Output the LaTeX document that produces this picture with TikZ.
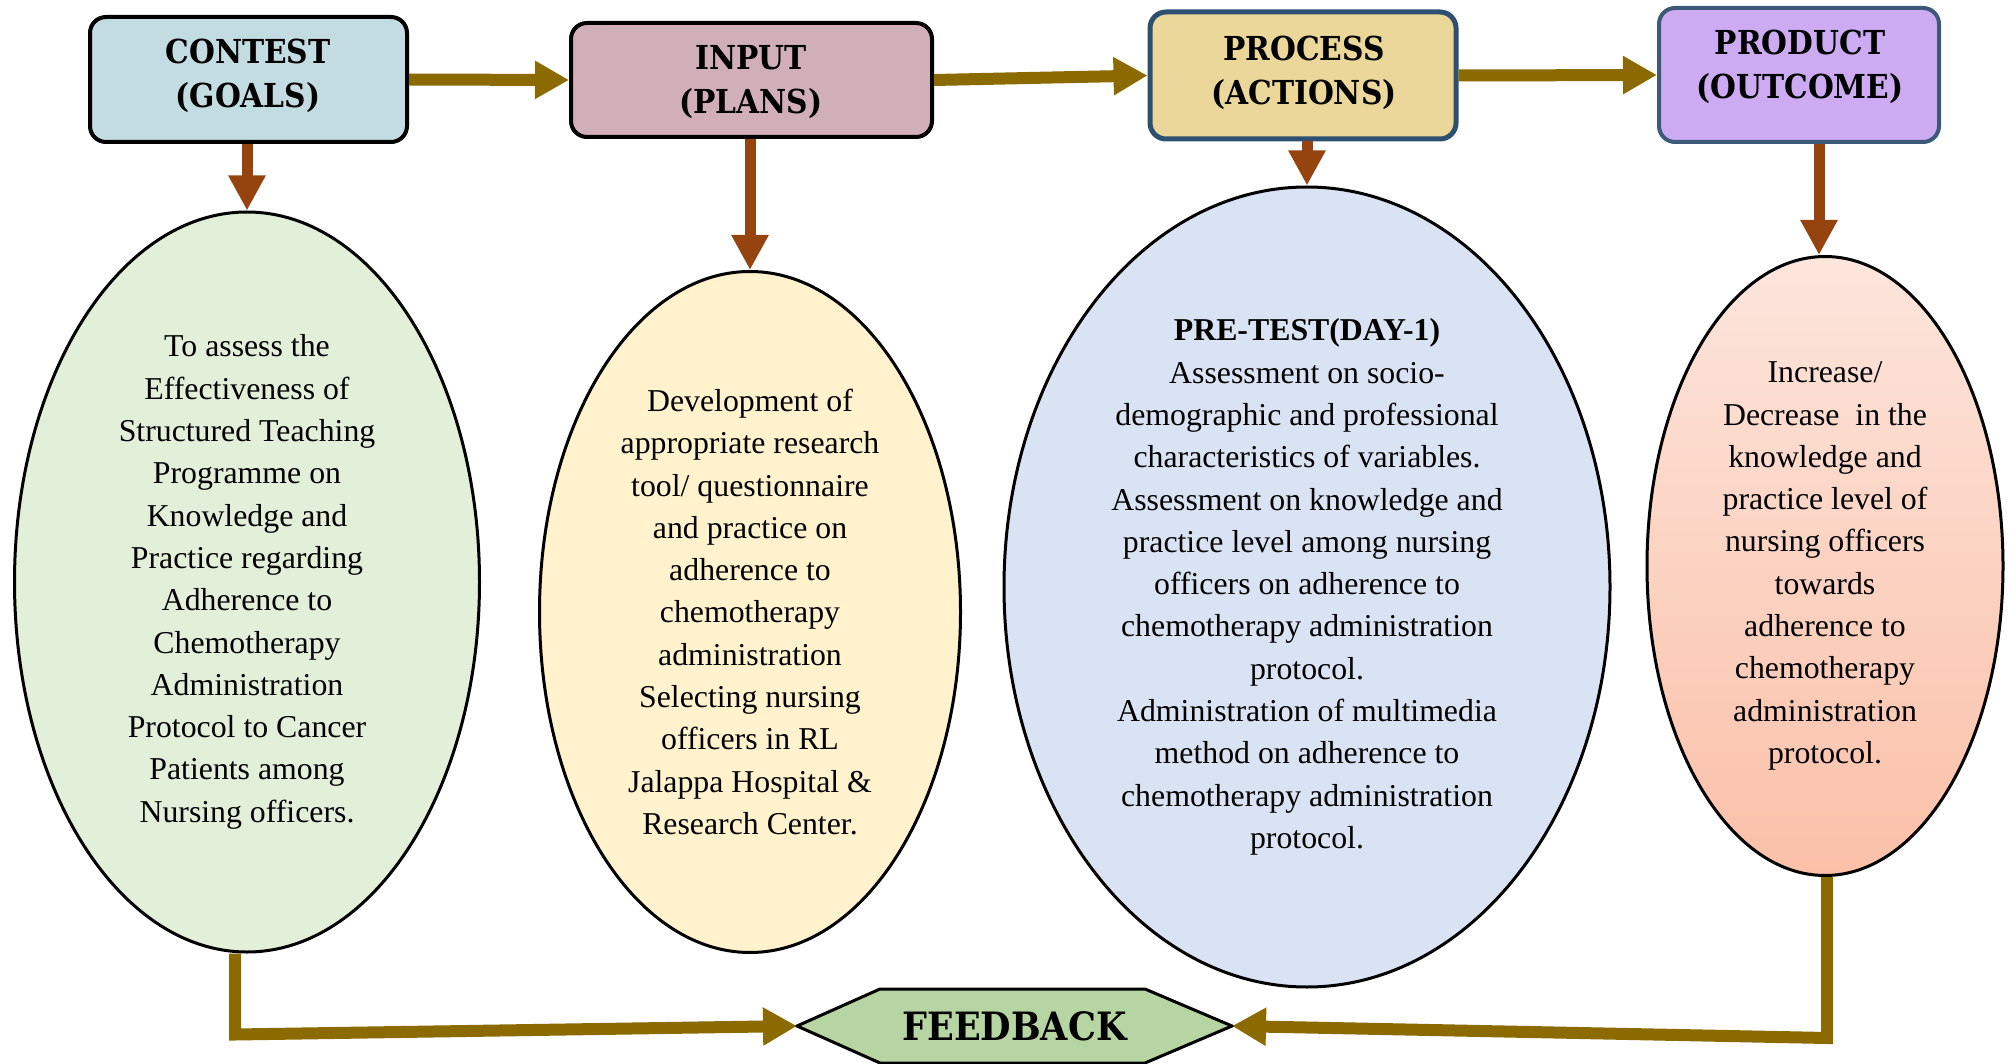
\documentclass[tikz,border=0pt]{standalone}
\usepackage{fontspec}
\setmainfont{Liberation Serif}
\newfontfamily\headfont{DejaVu Serif Condensed}
\usetikzlibrary{arrows.meta,shapes.geometric}

\definecolor{gold}{HTML}{8B6A00}
\definecolor{rust}{HTML}{95440F}
\definecolor{contestc}{HTML}{C3DCE2}
\definecolor{inputc}{HTML}{D1AFB9}
\definecolor{processc}{HTML}{EAD799}
\definecolor{productc}{HTML}{CDABF2}
\definecolor{navyedge}{HTML}{2E5070}
\definecolor{slateedge}{HTML}{3C5A78}
\definecolor{goalc}{HTML}{E2EFD9}
\definecolor{planc}{HTML}{FFF2CC}
\definecolor{actionc}{HTML}{DAE3F3}
\definecolor{outtop}{HTML}{FCE5DC}
\definecolor{outbot}{HTML}{FBC0A8}
\definecolor{hexc}{HTML}{B7D5A3}

\begin{document}
\begin{tikzpicture}[x=1pt,y=-1pt,
  hbox/.style={draw, rounded corners=16pt, line width=4pt, inner sep=0pt},
  headtext/.style={font=\headfont\bfseries\fontsize{33}{44}\selectfont, align=center, inner sep=0pt},
  oval/.style={ellipse, draw, line width=3pt, inner sep=0pt, align=center,
               font=\fontsize{31.8}{42.3}\selectfont},
  goarrow/.style={draw=gold, line width=12pt, line join=miter,
                  -{Triangle[length=34pt,width=36pt,fill=gold]}},
  downarrow/.style={draw=rust, line width=11pt,
                    -{Triangle[length=35pt,width=35pt,fill=rust]}},
]
\useasboundingbox (0,0) rectangle (2011,1064);

% stage boxes
\node[hbox, fill=contestc, minimum width=317pt, minimum height=125pt] (contest) at (248.5,79.5) {};
\node[hbox, fill=inputc, minimum width=361pt, minimum height=114pt] (input) at (751.5,80) {};
\node[hbox, fill=processc, draw=navyedge, line width=5pt, minimum width=306pt, minimum height=127pt] (process) at (1303,75.5) {};
\node[hbox, fill=productc, draw=slateedge, line width=4pt, minimum width=280pt, minimum height=134pt] (product) at (1799,75) {};

\node[headtext] (contestlbl) at (248,76) {CONTEST\\(GOALS)};
\node[headtext] (inputlbl) at (751,82) {INPUT\\(PLANS)};
\node[headtext] (processlbl) at (1304,73) {PROCESS\\(ACTIONS)};
\node[headtext] (productlbl) at (1800,67) {PRODUCT\\(OUTCOME)};

% detail ovals
\node[oval, fill=goalc, minimum width=465pt, minimum height=740pt] (e1) at (247,582)
  {To assess the\\Effectiveness of\\Structured Teaching\\Programme on\\Knowledge and\\Practice regarding\\Adherence to\\Chemotherapy\\Administration\\Protocol to Cancer\\Patients among\\Nursing officers.};
\node[oval, fill=planc, minimum width=421pt, minimum height=681pt] (e2) at (750,612)
  {Development of\\appropriate research\\tool/ questionnaire\\and practice on\\adherence to\\chemotherapy\\administration\\Selecting nursing\\officers in RL\\Jalappa Hospital \&\\Research Center.};
\node[oval, fill=actionc, minimum width=606pt, minimum height=800pt] (e3) at (1307,587)
  {\textbf{PRE-TEST(DAY-1)}\\Assessment on socio-\\demographic and professional\\characteristics of variables.\\Assessment on knowledge and\\practice level among nursing\\officers on adherence to\\chemotherapy administration\\protocol.\\Administration of multimedia\\method on adherence to\\chemotherapy administration\\protocol.};
\node[oval, top color=outtop, bottom color=outbot, minimum width=356pt, minimum height=619pt] (e4) at (1825,566)
  {Increase/\\Decrease\ \ in the\\knowledge and\\practice level of\\nursing officers\\towards\\adherence to\\chemotherapy\\administration\\protocol.};

% flow between stages
\draw[goarrow] (contest.east) -- (input.west);
\draw[goarrow] (input.east) -- (process.west);
\draw[goarrow] (process.east) -- (product.west);

% from each stage down to its oval
\draw[downarrow] (e1.north |- contest.south) -- (e1.north);
\draw[downarrow] (e2.north |- input.south) -- (e2.north);
\draw[downarrow] (e3.north |- process.south) -- (e3.north);
\draw[downarrow] ([xshift=-6pt]e4.north |- product.south) -- ([xshift=-6pt]e4.north);

% feedback hexagon
\node[minimum width=435pt, minimum height=74pt, inner sep=0pt, outer sep=0pt] (fbshape) at (1014.5,1026) {};
\draw[line width=3pt, fill=hexc, line join=miter]
  (fbshape.west) -- ([xshift=83pt]fbshape.north west) -- ([xshift=-87pt]fbshape.north east)
  -- (fbshape.east) -- ([xshift=-87pt]fbshape.south east) -- ([xshift=83pt]fbshape.south west) -- cycle;
\node[font=\headfont\bfseries\fontsize{39}{44}\selectfont, inner sep=0pt] (fb) at (fbshape.center) {FEEDBACK};

% feedback loops
\draw[goarrow] ([xshift=-12pt]e1.south) -- ++(0,81) -- (fbshape.west);
\draw[goarrow] ([xshift=2pt]e4.south) -- ++(0,161) -- (fbshape.east);
\end{tikzpicture}
\end{document}
